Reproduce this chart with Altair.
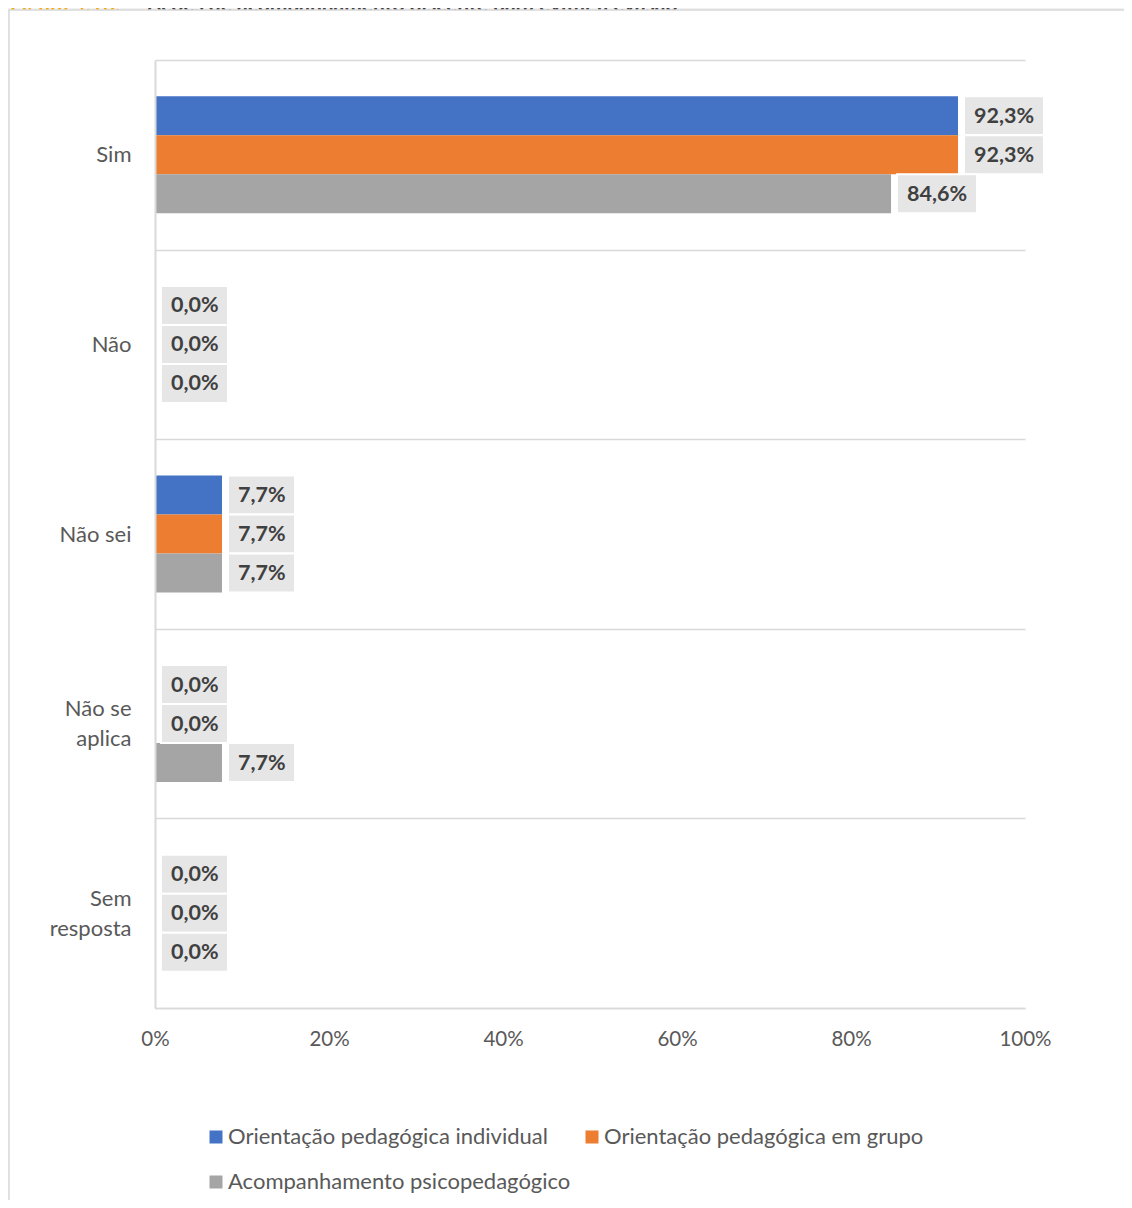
import altair as alt
import pandas as pd

categories = ["Sim", "Não", "Não sei", "Não se aplica", "Sem resposta"]
series = ["Orientação pedagógica individual", "Orientação pedagógica em grupo", "Acompanhamento psicopedagógico"]
individual = [92.3, 0.0, 7.7, 0.0, 0.0]
grupo = [92.3, 0.0, 7.7, 0.0, 0.0]
psico = [84.6, 0.0, 7.7, 7.7, 0.0]
colors = ["#4472C4", "#ED7D31", "#A5A5A5"]
x_ticks = [0, 0.2, 0.4, 0.6, 0.8, 1.0]
title_prefix = "Figura 4.16:"
title_text = "Ações de acompanhamento discente para evitar a evasão"

rows = []
for s, vals in zip(series, [individual, grupo, psico]):
    for c, v in zip(categories, vals):
        rows.append({"cat": c, "serie": s, "v": v / 100.0,
                     "label": f"{v:.1f}%".replace(".", ",")})
df = pd.DataFrame(rows)

# legend is laid out column-first: this order gives row 1 = individual, grupo; row 2 = psico
legend_order = [series[0], series[2], series[1]]
legend_colors = [colors[0], colors[2], colors[1]]

FONT = "Lato"

label_expr = ("datum.value == 'Não se aplica' ? ['Não se', 'aplica'] : "
              "datum.value == 'Sem resposta' ? ['Sem', 'resposta'] : datum.value")
two_line_test = "datum.value == 'Não se aplica' || datum.value == 'Sem resposta'"

Y = alt.Y("cat:N", sort=categories,
          scale=alt.Scale(paddingInner=0, paddingOuter=0),
          axis=alt.Axis(title=None, ticks=False, tickBand="extent",
                        grid=True, gridColor="#d9d9d9", gridWidth=1.5,
                        domain=True, domainColor="#d9d9d9", domainWidth=2,
                        labelFont=FONT, labelFontSize=22, labelColor="#595959",
                        labelPadding=24, labelLineHeight=30, labelExpr=label_expr,
                        labelOffset={"condition": {"test": two_line_test, "value": -15}, "value": 0},
                        labelLimit=0, zindex=1))
YO = alt.YOffset("serie:N", sort=series,
                 scale=alt.Scale(paddingInner=0, paddingOuter=0.93))
X = alt.X("v:Q", scale=alt.Scale(domain=[0, 1]),
          axis=alt.Axis(title=None, values=x_ticks, format=".0%", ticks=False,
                        grid=False, domain=True, domainColor="#d9d9d9", domainWidth=1.5,
                        labelFont=FONT, labelFontSize=20.5, labelColor="#595959",
                        labelPadding=21, labelFlush=False, zindex=1))

one = alt.Data(values=[{"k": 1}])

title_a = alt.Chart(one).mark_text(
    align="left", baseline="alphabetic", font=FONT, fontSize=21, fontWeight="bold",
    color="#F5A800", text=title_prefix
).encode(x=alt.value(-145), y=alt.value(-48))

title_b = alt.Chart(one).mark_text(
    align="left", baseline="alphabetic", font=FONT, fontSize=21, fontWeight="bold",
    color="#404040", text=title_text
).encode(x=alt.value(-8), y=alt.value(-48))

box = alt.Chart(one).mark_rect(
    fill="white", stroke="#d9d9d9", strokeWidth=1.5
).encode(x=alt.value(-146), x2=alt.value(1300), y=alt.value(-50), y2=alt.value(1300))

base = alt.Chart(df)

bars = base.mark_bar().encode(
    x=X, y=Y, yOffset=YO,
    color=alt.Color("serie:N",
                    scale=alt.Scale(domain=legend_order, range=legend_colors),
                    legend=alt.Legend(title=None, orient="none", legendX=50, legendY=1066,
                                      columns=2, symbolType="square", symbolSize=169,
                                      symbolStrokeWidth=0, labelFont=FONT, labelFontSize=22,
                                      labelColor="#595959", labelLimit=0, labelOffset=1,
                                      columnPadding=10, rowPadding=23, zindex=1))
)

box_long = base.transform_filter("length(datum.label) > 4").mark_rect(
    fill="#E6E6E6", stroke="white", strokeWidth=2, xOffset=6, x2Offset=86
).encode(x=X, x2="v:Q", y=Y, yOffset=YO)

box_short = base.transform_filter("length(datum.label) <= 4").mark_rect(
    fill="#E6E6E6", stroke="white", strokeWidth=2, xOffset=6, x2Offset=73
).encode(x=X, x2="v:Q", y=Y, yOffset=YO)

labels = base.mark_text(
    align="left", baseline="middle", dx=16, dy=1, font=FONT, fontSize=21.5,
    fontWeight="bold", color="#404040"
).encode(x=X, y=Y, yOffset=YO, text="label:N")

chart = alt.layer(title_a, title_b, box, bars, box_long, box_short, labels).properties(
    width=870, height=948,
    padding={"left": 147, "top": 52, "right": 99, "bottom": 192},
    autosize=alt.AutoSizeParams(type="none"),
    background="#f2f2f2",
).configure_view(stroke=None)

chart.save("out.html", embed_options={"renderer": "svg", "actions": False})
